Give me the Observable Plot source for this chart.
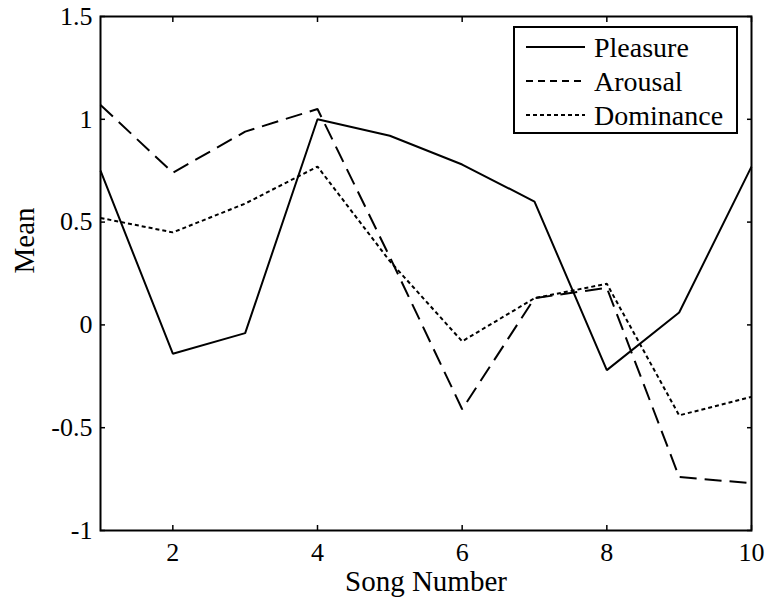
<!DOCTYPE html>
<html>
<head>
<meta charset="utf-8">
<script src="https://cdn.jsdelivr.net/npm/d3@7"></script>
<script src="https://cdn.jsdelivr.net/npm/@observablehq/plot@0.6"></script>
<style>
  body { margin: 0; background: #fff; }
  #wrap { position: relative; width: 768px; height: 600px; font-family: "Liberation Serif", "Times New Roman", serif; }
  #legend { position: absolute; left: 0; top: 0; }
</style>
</head>
<body>
<div id="wrap"></div>
<script>
const songs = [1, 2, 3, 4, 5, 6, 7, 8, 9, 10];
const pleasure = [0.75, -0.14, -0.04, 1.0, 0.92, 0.78, 0.60, -0.22, 0.06, 0.77];
const arousal = [1.07, 0.74, 0.94, 1.05, 0.33, -0.41, 0.13, 0.18, -0.74, -0.77];
const dominance = [0.52, 0.45, 0.59, 0.77, 0.31, -0.08, 0.13, 0.20, -0.44, -0.35];
const seriesNames = ["Pleasure", "Arousal", "Dominance"];
const xTicks = [2, 4, 6, 8, 10];
const yTicks = [-1, -0.5, 0, 0.5, 1, 1.5];
const xLabel = "Song Number";
const yLabel = "Mean";

const dashes = {Pleasure: null, Arousal: "17,8", Dominance: "4,3"};
const legendDashes = {Pleasure: null, Arousal: "7,5", Dominance: "4,3"};
const seriesValues = {Pleasure: pleasure, Arousal: arousal, Dominance: dominance};

const rows = seriesNames.flatMap(name => songs.map((s, i) => ({series: name, song: s, value: seriesValues[name][i]})));

const font = '"Liberation Serif", "Times New Roman", serif';

const lineMarks = seriesNames.map(name =>
  Plot.line(rows.filter(d => d.series === name), {
    x: "song", y: "value", stroke: "black", strokeWidth: 2,
    strokeDasharray: dashes[name], strokeLinejoin: "miter", strokeLinecap: "butt"
  })
);

const chart = Plot.plot({
  width: 768,
  height: 600,
  marginLeft: 100,
  marginRight: 17,
  marginTop: 16,
  marginBottom: 70,
  style: {fontFamily: font, background: "white", color: "black"},
  x: {domain: [1, 10]},
  y: {domain: [-1, 1.5]},
  marks: [
    ...lineMarks,
    // inward ticks on all four sides
    Plot.axisX({anchor: "bottom", ticks: xTicks, tickSize: -5, tickFormat: () => "", strokeWidth: 1.5, label: null}),
    Plot.axisX({anchor: "top", ticks: xTicks, tickSize: -5, tickFormat: () => "", strokeWidth: 1.5, label: null}),
    Plot.axisY({anchor: "left", ticks: yTicks, tickSize: -5, tickFormat: () => "", strokeWidth: 1.5, label: null}),
    Plot.axisY({anchor: "right", ticks: yTicks, tickSize: -5, tickFormat: () => "", strokeWidth: 1.5, label: null}),
    // tick labels
    Plot.axisX({anchor: "bottom", ticks: xTicks, tickSize: 0, tickPadding: 12, fontSize: 26, label: null, tickFormat: d => String(d)}),
    Plot.axisY({anchor: "left", ticks: yTicks, tickSize: 0, tickPadding: 8, fontSize: 26, label: null, tickFormat: d => String(d)}),
    // axis titles
    Plot.text([xLabel], {frameAnchor: "bottom", dy: 40, fontSize: 29, text: d => d, lineAnchor: "top"}),
    Plot.text([yLabel], {frameAnchor: "left", dx: -76, rotate: -90, fontSize: 29, text: d => d}),
    Plot.frame({stroke: "black", strokeWidth: 2})
  ]
});

const wrap = document.getElementById("wrap");
wrap.appendChild(chart);

// legend (drawn as overlay, like MATLAB's legend box)
const leg = d3.select(wrap).append("svg")
  .attr("id", "legend")
  .attr("width", 768).attr("height", 600)
  .style("pointer-events", "none");
const box = {x: 514, y: 27, w: 223, h: 106};
leg.append("rect").attr("x", box.x).attr("y", box.y).attr("width", box.w).attr("height", box.h)
  .attr("fill", "white").attr("stroke", "black").attr("stroke-width", 2);
seriesNames.forEach((name, i) => {
  const cy = box.y + 20 + i * 34;
  leg.append("line").attr("x1", box.x + 12).attr("x2", box.x + 71).attr("y1", cy).attr("y2", cy)
    .attr("stroke", "black").attr("stroke-width", 2)
    .attr("stroke-dasharray", legendDashes[name]);
  leg.append("text").attr("x", box.x + 80).attr("y", cy).attr("dy", "0.35em")
    .attr("font-family", font).attr("font-size", 28).attr("fill", "black").text(name);
});
</script>
</body>
</html>
